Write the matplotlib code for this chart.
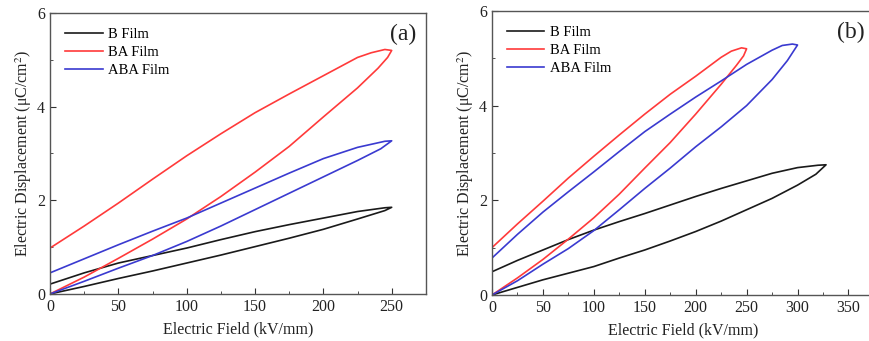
import matplotlib

matplotlib.use("Agg")
import matplotlib.pyplot as plt
from matplotlib.ticker import MultipleLocator

plt.rcParams["font.family"] = ["Liberation Serif", "DejaVu Serif"]
plt.rcParams["mathtext.fontset"] = "stix"

# Panel (a): each loop = lower branch (0 -> Emax) then upper branch (Emax -> 0)
a_B_E = [0, 25, 50, 75, 100, 125, 150, 175, 200, 225, 245, 250,
         245, 225, 200, 175, 150, 125, 100, 75, 50, 25, 0]
a_B_D = [0, 0.16, 0.33, 0.49, 0.66, 0.83, 1.01, 1.19, 1.38, 1.6, 1.78, 1.85,
         1.84, 1.76, 1.62, 1.48, 1.33, 1.16, 0.98, 0.82, 0.66, 0.45, 0.21]

a_BA_E = [0, 25, 50, 75, 100, 125, 150, 175, 200, 225, 240, 247, 250,
          245, 235, 225, 200, 175, 150, 125, 100, 75, 50, 25, 0]
a_BA_D = [0, 0.36, 0.76, 1.17, 1.6, 2.08, 2.6, 3.15, 3.78, 4.4, 4.82, 5.05, 5.2,
          5.22, 5.15, 5.05, 4.66, 4.27, 3.87, 3.42, 2.95, 2.45, 1.94, 1.45, 0.98]

a_ABA_E = [0, 25, 50, 75, 100, 125, 150, 175, 200, 225, 242, 250,
           245, 225, 200, 175, 150, 125, 100, 75, 50, 25, 0]
a_ABA_D = [0, 0.27, 0.55, 0.82, 1.12, 1.45, 1.8, 2.15, 2.5, 2.85, 3.1, 3.27,
           3.26, 3.13, 2.89, 2.58, 2.26, 1.94, 1.62, 1.34, 1.05, 0.75, 0.45]

# Panel (b)
b_B_E = [0, 25, 50, 75, 100, 125, 150, 175, 200, 225, 250, 275, 300, 318, 328,
         320, 300, 275, 250, 225, 200, 175, 150, 125, 100, 75, 50, 25, 0]
b_B_D = [0, 0.16, 0.32, 0.46, 0.6, 0.78, 0.95, 1.14, 1.34, 1.56, 1.8, 2.04, 2.32, 2.55, 2.75,
         2.74, 2.69, 2.57, 2.41, 2.25, 2.08, 1.9, 1.72, 1.55, 1.37, 1.17, 0.95, 0.73, 0.49]

b_BA_E = [0, 25, 50, 75, 100, 125, 150, 175, 200, 225, 240, 247, 250,
          245, 235, 225, 200, 175, 150, 125, 100, 75, 50, 25, 0]
b_BA_D = [0, 0.36, 0.75, 1.18, 1.63, 2.13, 2.68, 3.22, 3.82, 4.45, 4.85, 5.05, 5.2,
          5.22, 5.15, 5.02, 4.62, 4.24, 3.82, 3.38, 2.93, 2.47, 1.98, 1.5, 1.0]

b_ABA_E = [0, 25, 50, 75, 100, 125, 150, 175, 200, 225, 250, 275, 290, 300,
           295, 285, 275, 250, 225, 200, 175, 150, 125, 100, 75, 50, 25, 0]
b_ABA_D = [0, 0.3, 0.65, 0.98, 1.36, 1.8, 2.25, 2.68, 3.13, 3.55, 4.0, 4.55, 4.95, 5.28,
           5.3, 5.27, 5.17, 4.87, 4.52, 4.18, 3.82, 3.45, 3.03, 2.6, 2.18, 1.75, 1.28, 0.78]

labels = ["B Film", "BA Film", "ABA Film"]
colors = ["#1a1a1a", "#ff3a3a", "#3a3ad0"]

panels = [
    ("(a)", [(a_B_E, a_B_D), (a_BA_E, a_BA_D), (a_ABA_E, a_ABA_D)], 275,
     [0.0575, 0.138, 0.432, 0.824]),
    ("(b)", [(b_B_E, b_B_D), (b_BA_E, b_BA_D), (b_ABA_E, b_ABA_D)], 375,
     [0.5655, 0.135, 0.439, 0.833]),
]

fig = plt.figure(figsize=(8.7, 3.41), dpi=100)
for tag, loops, xmax, rect in panels:
    ax = fig.add_axes(rect)
    for (e, d), lab, c in zip(loops, labels, colors):
        ax.plot(e, d, color=c, lw=1.2, label=lab)
    ax.set_xlim(0, xmax)
    ax.set_ylim(0, 6)
    ax.xaxis.set_major_locator(MultipleLocator(50))
    ax.xaxis.set_minor_locator(MultipleLocator(25))
    ax.yaxis.set_major_locator(MultipleLocator(2))
    ax.yaxis.set_minor_locator(MultipleLocator(1))
    ax.tick_params(which="both", direction="in", top=False, right=False,
                   labelsize=11.5, colors="#333333", labelcolor="#222222")
    ax.tick_params(which="major", length=4)
    ax.tick_params(which="minor", length=2.5)
    for s in ax.spines.values():
        s.set_color("#555555")
        s.set_linewidth(1.0)
    ax.set_xlabel("Electric Field (kV/mm)", fontsize=11.5, color="#222222", labelpad=5)
    ax.set_ylabel("Electric Displacement (μC/cm$^2$)", fontsize=11.5,
                  color="#222222", labelpad=2)
    ax.text(0.975, 0.96, tag, transform=ax.transAxes, ha="right", va="top",
            fontsize=17, color="#222222")
    ax.legend(loc="upper left", frameon=False, fontsize=10.5, handlelength=2.6,
              labelspacing=0.35, handletextpad=0.4, borderaxespad=0.6)

fig.savefig("out.png", dpi=100)
